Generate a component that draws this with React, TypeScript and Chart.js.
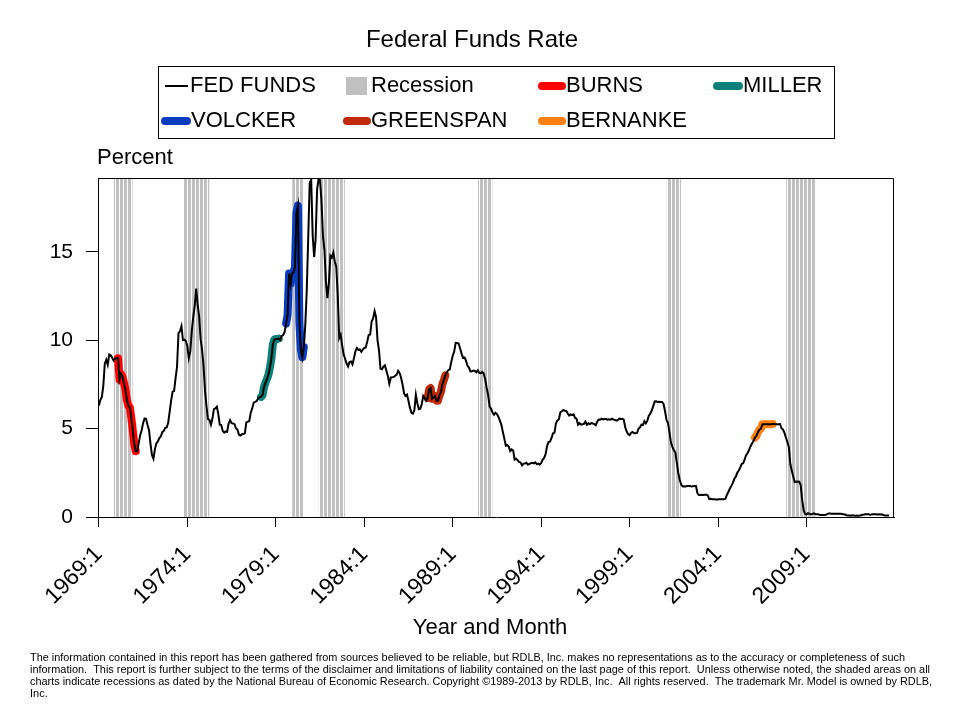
import React, { useEffect, useRef } from 'react';
import { Chart, registerables } from 'chart.js';

Chart.register(...registerables);

const START_YEAR = 1969;

// Monthly effective federal funds rate, 1969:1 - 2013:9 (percent)
const FED_FUNDS: number[] = [
  // 1969
  6.30, 6.61, 6.79, 7.41, 8.67, 8.90, 8.61, 9.19, 9.15, 9.00, 8.85, 8.97,
  // 1970
  8.98, 8.98, 7.76, 8.10, 7.94, 7.60, 7.21, 6.61, 6.29, 6.20, 5.60, 4.90,
  // 1971
  4.14, 3.72, 3.71, 4.16, 4.63, 4.91, 5.31, 5.57, 5.55, 5.20, 4.91, 4.14,
  // 1972
  3.50, 3.29, 3.83, 4.17, 4.27, 4.46, 4.55, 4.80, 4.87, 5.04, 5.06, 5.33,
  // 1973
  5.94, 6.58, 7.09, 7.12, 7.84, 8.49, 10.40, 10.50, 10.78, 10.01, 10.03, 9.95,
  // 1974
  9.65, 8.97, 9.35, 10.51, 11.31, 11.93, 12.92, 12.01, 11.34, 10.06, 9.45, 8.53,
  // 1975
  7.13, 6.24, 5.54, 5.49, 5.22, 5.55, 6.10, 6.14, 6.24, 5.82, 5.22, 5.20,
  // 1976
  4.87, 4.77, 4.84, 4.82, 5.29, 5.48, 5.31, 5.29, 5.25, 5.02, 4.95, 4.65,
  // 1977
  4.61, 4.68, 4.69, 4.73, 5.35, 5.39, 5.42, 5.90, 6.14, 6.47, 6.51, 6.56,
  // 1978
  6.70, 6.78, 6.79, 6.89, 7.36, 7.60, 7.81, 8.04, 8.45, 8.96, 9.76, 10.03,
  // 1979
  10.07, 10.06, 10.09, 10.01, 10.24, 10.29, 10.47, 10.94, 11.43, 13.77, 13.18, 13.78,
  // 1980
  13.82, 14.13, 17.19, 17.61, 10.98, 9.47, 9.03, 9.61, 10.87, 12.81, 15.85, 18.90,
  // 1981
  19.08, 15.93, 14.70, 15.72, 18.52, 19.10, 19.04, 17.82, 15.87, 15.08, 13.31, 12.37,
  // 1982
  13.22, 14.78, 14.68, 14.94, 14.45, 14.15, 12.59, 10.12, 10.31, 9.71, 9.20, 8.95,
  // 1983
  8.68, 8.51, 8.77, 8.80, 8.63, 8.98, 9.37, 9.56, 9.45, 9.48, 9.34, 9.47,
  // 1984
  9.56, 9.59, 9.91, 10.29, 10.32, 11.06, 11.23, 11.64, 11.30, 9.99, 9.43, 8.38,
  // 1985
  8.35, 8.50, 8.58, 8.27, 7.97, 7.53, 7.88, 7.90, 7.92, 7.99, 8.05, 8.27,
  // 1986
  8.14, 7.86, 7.48, 6.99, 6.85, 6.92, 6.56, 6.17, 5.89, 5.85, 6.04, 6.91,
  // 1987
  6.43, 6.10, 6.13, 6.37, 6.85, 6.73, 6.58, 6.73, 7.22, 7.29, 6.69, 6.77,
  // 1988
  6.83, 6.58, 6.58, 6.87, 7.09, 7.51, 7.75, 8.01, 8.19, 8.30, 8.35, 8.76,
  // 1989
  9.12, 9.36, 9.85, 9.84, 9.81, 9.53, 9.24, 8.99, 9.02, 8.84, 8.55, 8.45,
  // 1990
  8.23, 8.24, 8.28, 8.26, 8.18, 8.29, 8.15, 8.13, 8.20, 8.11, 7.81, 7.31,
  // 1991
  6.91, 6.25, 6.12, 5.91, 5.78, 5.90, 5.82, 5.66, 5.45, 5.21, 4.81, 4.43,
  // 1992
  4.03, 4.06, 3.98, 3.73, 3.82, 3.76, 3.25, 3.30, 3.22, 3.10, 3.09, 2.92,
  // 1993
  3.02, 3.03, 3.07, 2.96, 3.00, 3.04, 3.06, 3.03, 3.09, 2.99, 3.02, 2.96,
  // 1994
  3.05, 3.25, 3.34, 3.56, 4.01, 4.25, 4.26, 4.47, 4.73, 4.76, 5.29, 5.45,
  // 1995
  5.53, 5.92, 5.98, 6.05, 6.01, 6.00, 5.85, 5.74, 5.80, 5.76, 5.80, 5.60,
  // 1996
  5.56, 5.22, 5.31, 5.22, 5.24, 5.27, 5.40, 5.22, 5.30, 5.24, 5.31, 5.29,
  // 1997
  5.25, 5.19, 5.39, 5.51, 5.50, 5.56, 5.52, 5.54, 5.54, 5.50, 5.52, 5.50,
  // 1998
  5.56, 5.51, 5.49, 5.45, 5.49, 5.56, 5.54, 5.55, 5.51, 5.07, 4.83, 4.68,
  // 1999
  4.63, 4.76, 4.81, 4.74, 4.74, 4.76, 4.99, 5.07, 5.22, 5.20, 5.42, 5.30,
  // 2000
  5.45, 5.73, 5.85, 6.02, 6.27, 6.53, 6.54, 6.50, 6.52, 6.51, 6.51, 6.40,
  // 2001
  5.98, 5.49, 5.31, 4.80, 4.21, 3.97, 3.77, 3.65, 3.07, 2.49, 2.09, 1.82,
  // 2002
  1.73, 1.74, 1.73, 1.75, 1.75, 1.75, 1.73, 1.74, 1.75, 1.75, 1.34, 1.24,
  // 2003
  1.24, 1.26, 1.25, 1.26, 1.26, 1.22, 1.01, 1.03, 1.01, 1.01, 1.00, 0.98,
  // 2004
  1.00, 1.01, 1.00, 1.00, 1.00, 1.03, 1.26, 1.43, 1.61, 1.76, 1.93, 2.16,
  // 2005
  2.28, 2.50, 2.63, 2.79, 3.00, 3.04, 3.26, 3.50, 3.62, 3.78, 4.00, 4.16,
  // 2006
  4.29, 4.49, 4.59, 4.79, 4.94, 4.99, 5.24, 5.25, 5.25, 5.25, 5.25, 5.24,
  // 2007
  5.25, 5.26, 5.26, 5.25, 5.25, 5.25, 5.26, 5.02, 4.94, 4.76, 4.49, 4.24,
  // 2008
  3.94, 2.98, 2.61, 2.28, 1.98, 2.00, 2.01, 2.00, 1.81, 0.97, 0.39, 0.16,
  // 2009
  0.15, 0.22, 0.18, 0.15, 0.18, 0.21, 0.16, 0.16, 0.15, 0.12, 0.12, 0.12,
  // 2010
  0.11, 0.13, 0.16, 0.20, 0.20, 0.18, 0.18, 0.19, 0.19, 0.19, 0.19, 0.18,
  // 2011
  0.17, 0.16, 0.14, 0.10, 0.09, 0.09, 0.07, 0.10, 0.08, 0.07, 0.08, 0.07,
  // 2012
  0.08, 0.10, 0.13, 0.14, 0.16, 0.16, 0.16, 0.13, 0.14, 0.16, 0.16, 0.16,
  // 2013
  0.14, 0.15, 0.14, 0.15, 0.11, 0.09, 0.09, 0.08, 0.08,
];

const X_TICK_LABELS = ['1969:1', '1974:1', '1979:1', '1984:1', '1989:1', '1994:1', '1999:1', '2004:1', '2009:1'];
const Y_TICKS = [0, 5, 10, 15];

const RECESSION_FROM = ['1969:12', '1973:11', '1980:1', '1981:7', '1990:7', '2001:3', '2007:12'];
const RECESSION_TO = ['1970:11', '1975:3', '1980:7', '1982:11', '1991:3', '2001:11', '2009:6'];

const CHAIR_NAMES = ['BURNS', 'MILLER', 'VOLCKER', 'GREENSPAN', 'BERNANKE'];
const CHAIR_FROM = ['1970:2', '1978:3', '1979:8', '1987:8', '2006:2'];
const CHAIR_TO = ['1971:2', '1979:3', '1980:8', '1988:8', '2007:2'];
const CHAIR_COLORS = ['#ff0000', '#0a8078', '#0a3cc0', '#c02a08', '#ff8010'];

const TITLE = 'Federal Funds Rate';
const Y_LABEL = 'Percent';
const X_TITLE = 'Year and Month';
const SERIES_LABEL = 'FED FUNDS';
const RECESSION_LABEL = 'Recession';
const RECESSION_COLOR = '#c0c0c0';

const FOOTER_LINES = [
  'The information contained in this report has been gathered from sources believed to be reliable, but RDLB, Inc. makes no representations as to the accuracy or completeness of such',
  'information.  This report is further subject to the terms of the disclaimer and limitations of liability contained on the last page of this report.  Unless otherwise noted, the shaded areas on all',
  'charts indicate recessions as dated by the National Bureau of Economic Research. Copyright \u00A91989-2013 by RDLB, Inc.  All rights reserved.  The trademark Mr. Model is owned by RDLB,',
  'Inc.',
];

const Y_MAX = 19.17;
const FONT = '"Liberation Sans", Arial, sans-serif';

const monthIndex = (s: string): number => {
  const [y, m] = s.split(':').map(Number);
  return (y - START_YEAR) * 12 + (m - 1);
};

const makeStripePattern = (): CanvasPattern | string => {
  const c = document.createElement('canvas');
  c.width = 4;
  c.height = 1;
  const g = c.getContext('2d');
  if (!g) return RECESSION_COLOR;
  g.fillStyle = '#ffffff';
  g.fillRect(0, 0, 4, 1);
  g.fillStyle = RECESSION_COLOR;
  g.fillRect(0, 0, 3, 1);
  return g.createPattern(c, 'repeat') || RECESSION_COLOR;
};

const decorPlugin = {
  id: 'decor',
  afterDraw(chart: any) {
    const { ctx, chartArea: a } = chart;
    ctx.save();
    // plot frame
    ctx.strokeStyle = '#000';
    ctx.lineWidth = 1;
    ctx.beginPath();
    ctx.moveTo(Math.round(a.left) + 0.5, Math.round(a.top) + 0.5);
    ctx.lineTo(Math.round(a.right) - 0.5, Math.round(a.top) + 0.5);
    ctx.lineTo(Math.round(a.right) - 0.5, Math.round(a.bottom) + 0.5);
    ctx.stroke();

    ctx.fillStyle = '#000';
    ctx.textBaseline = 'middle';
    // title
    ctx.textAlign = 'center';
    ctx.font = `24px ${FONT}`;
    ctx.fillText(TITLE, 472, 40);
    // x axis title
    ctx.font = `22px ${FONT}`;
    ctx.fillText(X_TITLE, 490, 628);
    // Percent
    ctx.textAlign = 'left';
    ctx.font = `22px ${FONT}`;
    ctx.fillText(Y_LABEL, 97, 158);

    // legend box
    ctx.strokeStyle = '#000';
    ctx.lineWidth = 1;
    ctx.strokeRect(158.5, 66.5, 676, 72);
    ctx.font = `22px ${FONT}`;
    const r1 = 86;
    const r2 = 121;
    // FED FUNDS
    ctx.beginPath();
    ctx.lineWidth = 2;
    ctx.strokeStyle = '#000';
    ctx.moveTo(165, r1);
    ctx.lineTo(188, r1);
    ctx.stroke();
    ctx.fillStyle = '#000';
    ctx.fillText(SERIES_LABEL, 190, r1);
    // Recession
    ctx.fillStyle = RECESSION_COLOR;
    ctx.fillRect(346, r1 - 9, 21, 18);
    ctx.fillStyle = '#000';
    ctx.fillText(RECESSION_LABEL, 371, r1);
    // chairs
    const pos = [
      [542, 562, 566, r1],
      [717, 739, 743, r1],
      [165, 187, 191, r2],
      [347, 367, 371, r2],
      [542, 562, 566, r2],
    ];
    CHAIR_NAMES.forEach((name, i) => {
      const [x0, x1, tx, y] = pos[i];
      ctx.beginPath();
      ctx.lineWidth = 8;
      ctx.lineCap = 'round';
      ctx.strokeStyle = CHAIR_COLORS[i];
      ctx.moveTo(x0, y);
      ctx.lineTo(x1, y);
      ctx.stroke();
      ctx.fillStyle = '#000';
      ctx.fillText(name, tx, y);
    });

    // footer
    ctx.font = `11px ${FONT}`;
    ctx.fillStyle = '#000';
    const widths = [875, 900, 902, 40];
    FOOTER_LINES.forEach((line, i) => {
      ctx.fillText(line, 30, 658 + i * 12, widths[i]);
    });
    ctx.restore();
  },
};

export default function App() {
  const ref = useRef<HTMLCanvasElement | null>(null);

  useEffect(() => {
    if (!ref.current) return;
    const series = FED_FUNDS.map((v, i) => ({ x: i, y: v }));
    const chairSets = CHAIR_NAMES.map((name, i) => {
      const s = monthIndex(CHAIR_FROM[i]);
      const e = monthIndex(CHAIR_TO[i]);
      return {
        type: 'line' as const,
        label: name,
        data: FED_FUNDS.slice(s, e + 1).map((v, k) => ({ x: s + k, y: v })),
        borderColor: CHAIR_COLORS[i],
        borderWidth: 8,
        borderCapStyle: 'round' as const,
        borderJoinStyle: 'round' as const,
        pointRadius: 0,
        tension: 0,
        order: 1,
      };
    });
    const recData: { x: number; y: number }[] = [];
    RECESSION_FROM.forEach((f, i) => {
      const s = monthIndex(f);
      const e = monthIndex(RECESSION_TO[i]);
      for (let m = s; m <= e; m++) recData.push({ x: m, y: Y_MAX });
    });

    const chart = new Chart(ref.current, {
      type: 'line',
      data: {
        datasets: [
          {
            type: 'line',
            label: SERIES_LABEL,
            data: series,
            borderColor: '#000',
            borderWidth: 2,
            pointRadius: 0,
            tension: 0,
            order: 0,
          },
          ...chairSets,
          {
            type: 'bar',
            label: RECESSION_LABEL,
            data: recData,
            backgroundColor: makeStripePattern(),
            barThickness: 1.8,
            order: 5,
          } as any,
        ],
      },
      options: {
        animation: false,
        responsive: false,
        devicePixelRatio: 1,
        layout: { padding: { left: 0, right: 66, top: 178, bottom: 70 } },
        plugins: {
          legend: { display: false },
          title: { display: false },
          tooltip: { enabled: false },
        },
        scales: {
          x: {
            type: 'linear',
            min: -0.6,
            max: 539.3,
            offset: false,
            afterBuildTicks: (s: any) => {
              s.ticks = X_TICK_LABELS.map((l) => ({ value: monthIndex(l) }));
            },
            afterFit: (s: any) => {
              s.height = 133;
            },
            grid: {
              display: true,
              offset: false,
              drawOnChartArea: false,
              drawTicks: true,
              tickLength: 10,
              color: '#000',
              lineWidth: 1,
            },
            border: { display: true, color: '#000', width: 1 },
            ticks: {
              autoSkip: false,
              maxRotation: 45,
              minRotation: 45,
              color: '#000',
              padding: 14,
              font: { family: FONT, size: 23 },
              callback: (_v: any, i: number) => X_TICK_LABELS[i],
            },
            title: { display: false },
          },
          y: {
            min: 0,
            max: Y_MAX,
            afterBuildTicks: (s: any) => {
              s.ticks = Y_TICKS.map((v) => ({ value: v }));
            },
            afterFit: (s: any) => {
              s.width = 98;
            },
            grid: {
              display: true,
              drawOnChartArea: false,
              drawTicks: true,
              tickLength: 12,
              color: '#000',
              lineWidth: 1,
            },
            border: { display: true, color: '#000', width: 1 },
            ticks: {
              color: '#000',
              padding: 13,
              font: { family: FONT, size: 21 },
            },
          },
        },
      },
      plugins: [decorPlugin],
    } as any);
    return () => chart.destroy();
  }, []);

  return (
    <div style={{ position: 'fixed', left: 0, top: 0, width: 960, height: 720, background: '#fff' }}>
      <canvas ref={ref} width={960} height={720} style={{ display: 'block' }} />
    </div>
  );
}
